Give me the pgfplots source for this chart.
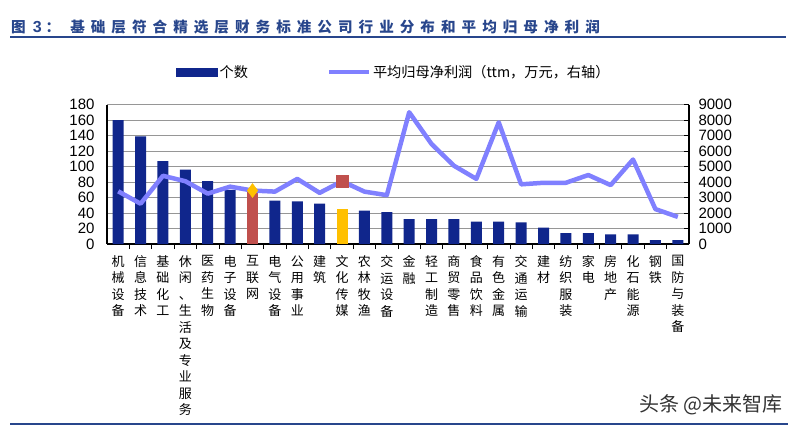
\documentclass[border=0pt]{standalone}
\usepackage{pgfplots}
\pgfplotsset{compat=1.18}
\usepackage{fontspec}
\setmainfont{Liberation Sans}
\newfontfamily\cjk{Noto Sans CJK SC}

\definecolor{barnavy}{RGB}{16,38,140}
\definecolor{barred}{RGB}{192,80,77}
\definecolor{baryellow}{RGB}{255,192,0}
\definecolor{linelav}{RGB}{128,128,255}
\definecolor{titleblue}{RGB}{40,70,140}
\definecolor{gridgray}{RGB}{150,150,150}

% gap between heading characters
\newcommand\tg{\kern6pt}

% industry index and average net profit (ttm, 10k CNY)
\pgfplotstableread{
x p
0 3400
1 2600
2 4400
3 4050
4 3250
5 3700
6 3450
7 3380
8 4200
9 3300
10 4050
11 3380
12 3150
13 8500
14 6450
15 5050
16 4200
17 7850
18 3850
19 3950
20 3950
21 4450
22 3800
23 5450
24 2250
25 1750
}\profittable

\begin{document}
\begin{tikzpicture}
\path[use as bounding box] (0,0) rectangle (795pt,-429pt);

% header and footer rules
\draw[titleblue, line width=1.6pt] (10pt,-37pt) -- (786pt,-37pt);
\draw[titleblue, line width=1.6pt] (10pt,-424pt) -- (788pt,-424pt);
\node[anchor=west, inner sep=0pt, text=titleblue] at (11pt,-27pt)
  {\fontsize{14.6}{18}\selectfont\bfseries\cjk 图\kern7pt{\fontsize{16}{18}\selectfont\rmfamily 3}\kern4pt ：\kern10pt
   基\tg 础\tg 层\tg 符\tg 合\tg 精\tg 选\tg 层\tg 财\tg 务\tg 标\tg 准\tg 公\tg 司\tg
   行\tg 业\tg 分\tg 布\tg 和\tg 平\tg 均\tg 归\tg 母\tg 净\tg 利\tg 润};
\node[anchor=east, inner sep=0pt, text=black!80] at (783pt,-405pt)
  {\fontsize{20}{22}\selectfont\cjk 头条 @未来智库};

\begin{axis}[
  at={(107pt,-244pt)}, anchor=south west,
  scale only axis, width=582pt, height=139.5pt,
  xmin=-0.5, xmax=25.5, ymin=0, ymax=180,
  ytick={0,20,...,180},
  ytick style={draw=none},
  xtick={0,...,25},
  xticklabels={
    {机\\械\\设\\备},{信\\息\\技\\术},{基\\础\\化\\工},
    {休\\闲\\、\\生\\活\\及\\专\\业\\服\\务},
    {医\\药\\生\\物},{电\\子\\设\\备},{互\\联\\网},{电\\气\\设\\备},
    {公\\用\\事\\业},{建\\筑},{文\\化\\传\\媒},{农\\林\\牧\\渔},
    {交\\运\\设\\备},{金\\融},{轻\\工\\制\\造},{商\\贸\\零\\售},
    {食\\品\\饮\\料},{有\\色\\金\\属},{交\\通\\运\\输},{建\\材},
    {纺\\织\\服\\装},{家\\电},{房\\地\\产},{化\\石\\能\\源},
    {钢\\铁},{国\\防\\与\\装\\备}},
  major x tick style={draw=none},
  minor xtick={0.5,1.5,...,24.5},
  minor x tick style={black, line width=0.8pt},
  minor tick length=5pt,
  axis x line*=bottom, axis y line*=left,
  axis line style={black, line width=1.2pt},
  ymajorgrids, grid style={gridgray, line width=0.8pt},
  xticklabel style={font=\fontsize{13}{16.5}\selectfont\cjk, align=center,
    anchor=north, inner sep=0pt, yshift=-7pt},
  yticklabel style={font=\fontsize{15}{15}\selectfont, xshift=-9pt},
  /pgf/number format/assume math mode=true,
  ybar, bar width=11pt, bar shift=0pt,
]
\addplot[fill=barnavy, draw=none] coordinates {
  (0,160) (1,139) (2,107) (3,96) (4,81) (5,70)
  (7,56) (8,55) (9,52) (11,43) (12,41) (13,32) (14,32) (15,32)
  (16,29) (17,29) (18,28) (19,21) (20,14) (21,14) (22,12.5)
  (23,12.5) (24,5) (25,5)};
\addplot[fill=barred, draw=none] coordinates {(6,68)};
\addplot[fill=baryellow, draw=none] coordinates {(10,45)};
\end{axis}

\begin{axis}[
  at={(107pt,-244pt)}, anchor=south west,
  scale only axis, width=582pt, height=139.5pt,
  xmin=-0.5, xmax=25.5, ymin=0, ymax=9000,
  ytick={0,1000,...,9000},
  scaled y ticks=false,
  axis y line*=right, axis x line=none,
  axis line style={black, line width=1.2pt},
  ytick style={black, line width=0.8pt},
  major tick length=5pt,
  yticklabel style={font=\fontsize{15}{15}\selectfont, xshift=6pt,
    /pgf/number format/1000 sep={}},
  /pgf/number format/assume math mode=true,
  legend columns=2,
  legend style={at={(axis description cs:0.1186,1.233)}, anchor=west,
    draw=none, fill=none, inner sep=0pt,
    font=\fontsize{14.2}{16}\selectfont\cjk,
    /tikz/every even column/.append style={column sep=77pt}},
  legend cell align=left,
]
\addlegendimage{legend image code/.code={\fill[barnavy] (0pt,-4pt) rectangle (41pt,4pt);}}
\addlegendentry{个数}
\addplot[linelav, line width=4.5pt, line join=round, mark=none,
  legend image code/.code={\draw[linelav, line width=4pt] (0pt,0pt) -- (40pt,0pt);}]
  table[x=x, y=p] {\profittable};
\addlegendentry{平均归母净利润（ttm，万元，右轴）}
\addplot[only marks, mark=diamond*, mark size=7pt, baryellow, forget plot]
  coordinates {(6,3450)};
\addplot[only marks, mark=square*, mark size=6pt, barred, forget plot]
  coordinates {(10,4050)};
\end{axis}
\end{tikzpicture}
\end{document}
